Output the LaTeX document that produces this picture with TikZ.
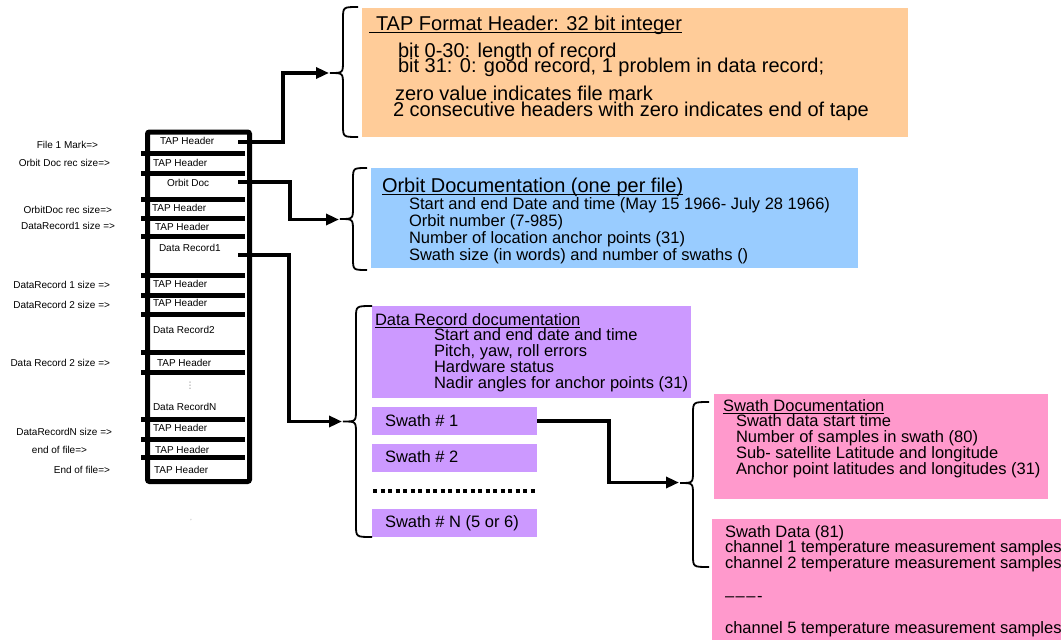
\documentclass[tikz,border=0pt]{standalone}
\usepackage{fontspec}
\setmainfont{Liberation Sans}
\newfontfamily\dejavu{DejaVu Sans}
\usetikzlibrary{arrows.meta}
\definecolor{hdrC}{HTML}{FFCC99}
\definecolor{orbC}{HTML}{99CCFF}
\definecolor{recC}{HTML}{CC99FF}
\definecolor{swC}{HTML}{FF99CC}
\newcommand{\drawcurly}[6]{% xL xM xR top tip bottom
  \draw[bracestyle] (#3,#4) .. controls (#2,#4) .. (#2,#4+12) -- (#2,#5-12)
    .. controls (#2,#5) .. (#1,#5) .. controls (#2,#5) .. (#2,#5+12)
    -- (#2,#6-12) .. controls (#2,#6) .. (#3,#6);}
\begin{document}
\begin{tikzpicture}[x=1pt,y=-1pt,
  txt/.style={inner sep=0pt, outer sep=0pt, anchor=base west},
  big/.style={txt, font=\fontsize{20}{20}\selectfont},
  mid/.style={txt, font=\fontsize{16.5}{16.5}\selectfont},
  small/.style={inner sep=0pt, outer sep=0pt, font=\fontsize{10}{10}\selectfont},
  cell/.style={small, anchor=base west},
  lab/.style={small, anchor=base east},
  panel/.style={inner sep=0pt, outer sep=0pt, anchor=north west},
  bar/.style={line width=5pt},
  conn/.style={line width=3.5pt, -{Triangle[length=13pt,width=11pt]}},
  bracestyle/.style={line width=1.8pt},
  uline/.style={line width=1.4pt},
]
\useasboundingbox (0,0) rectangle (1061,640);

% ---------- coloured panels ----------
\node[panel, fill=hdrC, minimum width=546pt, minimum height=129pt] (hdrbox) at (362,8) {};
\node[panel, fill=orbC, minimum width=487pt, minimum height=100pt] (orbbox) at (371,168) {};
\node[panel, fill=recC, minimum width=319pt, minimum height=92pt] (recbox) at (372,306) {};
\node[panel, fill=recC, minimum width=165pt, minimum height=28pt] (sw1) at (372,407) {};
\node[panel, fill=recC, minimum width=165pt, minimum height=28pt] (sw2) at (372,444) {};
\node[panel, fill=recC, minimum width=165pt, minimum height=28pt] (swN) at (372,509) {};
\node[panel, fill=swC, minimum width=334pt, minimum height=105pt] (swdoc) at (714,394) {};
\node[panel, fill=swC, minimum width=349pt, minimum height=121pt] (swdata) at (712,519) {};

% ---------- tape column ----------
\node[panel, draw, line width=5pt, rounded corners=2pt, minimum width=102pt, minimum height=349.5pt] (tape) at (147.5,132) {};
\foreach \yy in {153,173,199,218,236,275,295,314,352,372,419,439,457}
  \draw[bar] (141,\yy) -- (245,\yy);

\node[cell] (c1) at (160,144.5) {TAP Header};
\node[cell] (c2) at (153,166) {TAP Header};
\node[cell] (c3) at (167,186) {Orbit Doc};
\node[cell] (c4) at (152,211) {TAP Header};
\node[cell] (c5) at (155,230) {TAP Header};
\node[cell] (c6) at (159,251) {Data Record1};
\node[cell] (c7) at (153,287) {TAP Header};
\node[cell] (c8) at (153,306) {TAP Header};
\node[cell] (c9) at (153,333) {Data Record2};
\node[cell] (c10) at (157,366) {TAP Header};
\node[small, text=gray, font=\fontsize{9}{9}\dejavu] (c10dots) at (190,386) {⋮};
\node[cell] (c11) at (153,410) {Data RecordN};
\node[cell] (c12) at (153,431) {TAP Header};
\node[cell] (c13) at (155,453) {TAP Header};
\node[cell] (c14) at (154,473) {TAP Header};
\node[small, text=gray, font=\fontsize{6}{6}\selectfont] (stray) at (191,521) {'};

% ---------- left labels ----------
\node[lab] (l1) at (98,148.5) {File 1 Mark=>};
\node[lab] (l2) at (110,166) {Orbit Doc rec size=>};
\node[lab] (l3) at (112,213) {OrbitDoc rec size=>};
\node[lab] (l4) at (115,229.5) {DataRecord1 size =>};
\node[lab] (l5) at (110,288.5) {DataRecord 1 size =>};
\node[lab] (l6) at (110,308) {DataRecord 2 size =>};
\node[lab] (l7) at (110,366.5) {Data Record 2 size =>};
\node[lab] (l8) at (112,435) {DataRecordN size =>};
\node[lab] (l9) at (87,453) {end of file=>};
\node[lab] (l10) at (110,473) {End of file=>};

% ---------- header panel text ----------
\node[big] (t1) at (376,30) {TAP Format Header: 32 bit integer};
\draw[uline] ([xshift=-7pt,yshift=-2.5pt]t1.base west) -- ([yshift=-2.5pt]t1.base east);
\node[big] (t2) at (398,57) {bit 0-30: length of record};
\node[big] (t3) at (398,72.5) {bit 31: 0: good record, 1 problem in data record;};
\node[big] (t4) at (395,100.5) {zero value indicates file mark};
\node[big] (t5) at (393,116) {2 consecutive headers with zero indicates end of tape};

% ---------- orbit panel text ----------
\node[big] (o1) at (382,192) {Orbit Documentation (one per file)};
\draw[uline] ([yshift=-2.5pt]o1.base west) -- ([yshift=-2.5pt]o1.base east);
\node[mid] (o2) at (409,209) {Start and end Date and time (May 15 1966- July 28 1966)};
\node[mid] (o3) at (409,226) {Orbit number (7-985)};
\node[mid] (o4) at (409,243) {Number of location anchor points (31)};
\node[mid] (o5) at (409,260) {Swath size (in words) and number of swaths ()};

% ---------- data record panel text ----------
\node[mid] (d1) at (375,325) {Data Record documentation};
\draw[uline] ([yshift=-2.5pt]d1.base west) -- ([yshift=-2.5pt]d1.base east);
\node[mid] (d2) at (434,340) {Start and end date and time};
\node[mid] (d3) at (434,356) {Pitch, yaw, roll errors};
\node[mid] (d4) at (434,372) {Hardware status};
\node[mid] (d5) at (434,388) {Nadir angles for anchor points (31)};
\node[mid] (s1) at (385,426.5) {Swath \# 1};
\node[mid] (s2) at (385,462.5) {Swath \# 2};
\node[mid] (s3) at (385,527) {Swath \# N (5 or 6)};
\draw[line width=4pt, dash pattern=on 4pt off 3.5pt] (373,491) -- (537,491);

% ---------- swath panels text ----------
\node[mid] (p1) at (723,411) {Swath Documentation};
\draw[uline] ([yshift=-2.5pt]p1.base west) -- ([yshift=-2.5pt]p1.base east);
\node[mid] (p2) at (736,426.5) {Swath data start time};
\node[mid] (p3) at (736,442.5) {Number of samples in swath (80)};
\node[mid] (p4) at (736,458.5) {Sub- satellite Latitude and longitude};
\node[mid] (p5) at (736,474.5) {Anchor point latitudes and longitudes (31)};
\node[mid] (q1) at (725,537) {Swath Data (81)};
\node[mid] (q2) at (725,552.5) {channel 1 temperature measurement samples};
\node[mid] (q3) at (725,568.5) {channel 2 temperature measurement samples};
\node[mid] (q4) at (725,601) {–\kern1.5pt–\kern1.5pt–\kern1.5pt-};
\node[mid] (q5) at (725,633) {channel 5 temperature measurement samples};

% ---------- braces ----------
\drawcurly{330}{343}{358}{7}{73}{137}
\drawcurly{340}{353}{367}{168}{219}{270}
\drawcurly{343}{356}{372}{306}{421.5}{537}
\drawcurly{680}{693}{709}{402}{483}{567}
\coordinate (b1) at (329,73);
\coordinate (b2) at (339,219.5);
\coordinate (b3) at (342,421.5);
\coordinate (b4) at (679,482.5);

% ---------- connectors ----------
\coordinate (k1) at (238,142);
\coordinate (k2) at (238,182);
\coordinate (k3) at (238,255);
\draw[conn] (k1) -- ++(45,0) |- (b1);
\draw[conn] (k2) -- ++(52,0) |- (b2);
\draw[conn] (k3) -- ++(51,0) |- (b3);
\draw[conn] (sw1.east) -- ++(72,0) |- (b4);

\end{tikzpicture}
\end{document}
